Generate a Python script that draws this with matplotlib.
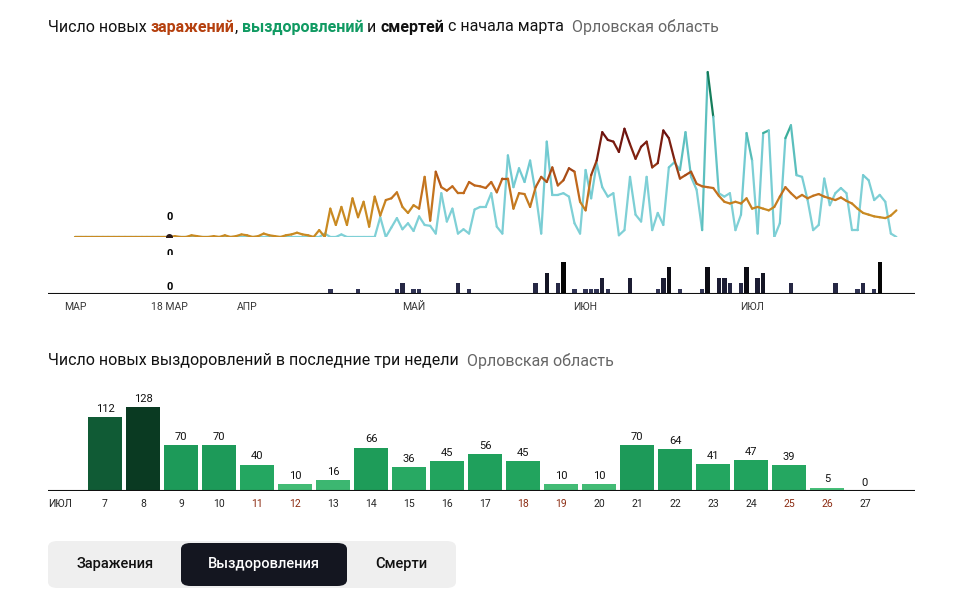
import numpy as np
import matplotlib
matplotlib.use("Agg")
import matplotlib.pyplot as plt
from matplotlib.collections import LineCollection
from matplotlib.colors import LinearSegmentedColormap, Normalize
from matplotlib.patches import FancyBboxPatch

plt.rcParams['font.family'] = 'Roboto'

# ---- data: daily from 1 March (day 0) ----
cases_prefix = [0]*17 + [0,1,0,0,2,1,0,0,1,0,2,0,1,3,2,0,1,4,2,1,0,2,3,5,3,2]
cases_main = [0,8,0,33,14,35,14,45,23,41,12,47,25,43,45,52,35,28,37,33,70,19,76,58,54,59,51,51,64,60,
              59,57,64,52,68,68,33,51,50,35,58,70,64,81,60,66,80,76,41,31,72,89,
              122,113,111,99,126,108,91,105,111,81,86,124,115,90,68,72,76,62,59,58,57,48,41,39,41,39,45,33,
              35,33,31,35,47,58,51,45,49,45,48,50,47,45,43,46,42,39,33,28,26,24,23,22,25,31]
rec_prefix = [0]*43
rec_main = [0,0,4,0,0,3,0,0,0,0,0,0,23,0,11,22,9,16,7,24,14,13,4,51,18,33,4,9,4,32,35,35,51,12,4,95,58,80,
            64,89,51,4,111,49,49,51,47,16,4,78,45,86,
            58,47,51,2,8,70,26,18,70,8,28,14,81,87,78,122,70,55,8,192,140,51,47,51,8,26,121,89,4,121,
            124,0,16,115,130,72,70,43,8,14,68,37,51,57,51,8,8,72,66,43,49,41,4,0]
cases = cases_prefix + cases_main
recoveries = rec_prefix + rec_main
death_days = [46,51,58,59,61,62,69,71,83,85,87,88,90,92,93,94,95,96,100,105,106,107,109,113,114,116,117,118,120,121,
              123,124,129,137,141,142,144,145]
death_counts = [1,1,1,2,1,1,2,1,2,4,2,6,1,1,1,1,3,1,3,1,3,5,1,1,5,3,3,2,2,5,3,4,2,2,1,2,1,6]
month_labels = ["МАР", "18 МАР", "АПР", "МАЙ", "ИЮН", "ИЮЛ"]
month_days = [0, 17, 31, 61, 92, 122]

week_days = list(range(7, 28))
week_rec = [112,128,70,70,40,10,16,66,36,45,56,45,10,10,70,64,41,47,39,5,0]
weekend_days = [11,12,18,19,25,26]

W, H = 960, 613
fig = plt.figure(figsize=(W/100, H/100), dpi=100)

def fx(px): return px / W
def fy(py): return 1 - py / H

def rich(x, y, parts, size):
    r = fig.canvas.get_renderer()
    cx = x
    for txt, col, wt in parts:
        t = fig.text(fx(cx), fy(y), txt, color=col, fontsize=size, fontweight=wt, va='center', ha='left')
        bb = t.get_window_extent(renderer=r)
        cx += bb.width

rich(48, 27, [("Число новых ", "#111", "normal"), ("заражений", "#b5400e", "bold"), (", ", "#111", "normal"),
              ("выздоровлений", "#109a62", "bold"), (" и ", "#111", "normal"), ("смертей", "#111", "bold"),
              (" с начала марта  ", "#111", "normal"), ("Орловская область", "#666", "normal")], 11.5)

# ---- top line chart ----
x0, x1 = 48, 915
d0 = (48 - 75) / 5.55
d1 = (915 - 75) / 5.55
ax = fig.add_axes([fx(x0), fy(237), fx(x1 - x0), (237 - 60) / H])
ax.set_xlim(d0, d1)
ax.set_ylim(0, 206)
ax.axis('off')

def grad_line(vals, cmap, norm, lw=1.6):
    d = np.arange(len(vals))
    v = np.array(vals, float)
    pts = np.column_stack([d, v]).reshape(-1, 1, 2)
    segs = np.concatenate([pts[:-1], pts[1:]], axis=1)
    lc = LineCollection(segs, cmap=cmap, norm=norm, linewidth=lw, capstyle='round')
    lc.set_array((v[:-1] + v[1:]) / 2)
    ax.add_collection(lc)

rec_cmap = LinearSegmentedColormap.from_list('r', ['#7fd0d6', '#6cc8cf', '#20a07e', '#0c5e3c'])
case_cmap = LinearSegmentedColormap.from_list('c', ['#c98a22', '#c0661c', '#8a2a10', '#6a0f0f'])
grad_line(recoveries, rec_cmap, Normalize(40, 190))
grad_line(cases, case_cmap, Normalize(30, 120))
ax.plot([17], [0], 'o', color='#2a1a1a', ms=4, zorder=5)
ax.annotate("0", (17, 0), xytext=(0, 12), textcoords='offset points', ha='center', fontsize=8, fontweight='bold')
ax.annotate("0", (17, 0), xytext=(0, -12), textcoords='offset points', ha='center', va='center', fontsize=8, fontweight='bold')

# ---- deaths bars ----
axd = fig.add_axes([fx(x0), fy(294), fx(x1 - x0), 39 / H])
axd.set_xlim(d0, d1)
axd.set_ylim(0, 7.3)
dcm = LinearSegmentedColormap.from_list('d', ['#3b3f66', '#1c1d33', '#050505'])
axd.bar(death_days, death_counts, width=0.8, color=[dcm(c / 6) for c in death_counts])
axd.axhline(0, color='#111', lw=1.5)
axd.text(17, 0.8, "0", ha='center', fontsize=8, fontweight='bold')
for s in axd.spines.values():
    s.set_visible(False)
axd.set_yticks([])
axd.set_xticks(month_days)
axd.set_xticklabels(month_labels, fontsize=7.5, color='#333')
axd.tick_params(axis='x', length=0, pad=6)

# ---- second chart ----
rich(48, 361, [("Число новых выздоровлений в последние три недели  ", "#111", "normal"),
               ("Орловская область", "#666", "normal")], 11.5)
axb = fig.add_axes([fx(x0), fy(491), fx(x1 - x0), 100 / H])
axb.set_xlim((48 - 105) / 38 + 7, (915 - 105) / 38 + 7)
axb.set_ylim(0, 152)
gcm = LinearSegmentedColormap.from_list('g', ['#4cc27c', '#22a55f', '#1a9455', '#0a3a22'])
axb.bar(week_days, week_rec, width=0.92, color=[gcm(v / 128) for v in week_rec])
for d, v in zip(week_days, week_rec):
    axb.text(d, v + 5, str(v), ha='center', va='bottom', fontsize=8, color='#111')
axb.axhline(0, color='#111', lw=1.5)
for s in axb.spines.values():
    s.set_visible(False)
axb.set_yticks([])
axb.set_xticks(week_days)
axb.set_xticklabels([str(d) for d in week_days], fontsize=7.5)
for lbl, d in zip(axb.get_xticklabels(), week_days):
    lbl.set_color('#8b2a10' if d in weekend_days else '#222')
axb.tick_params(axis='x', length=0, pad=6)
fig.text(fx(60), fy(504), "ИЮЛ", fontsize=7.5, ha='center', va='center', color='#222')

# ---- buttons ----
fig.patches.append(FancyBboxPatch((fx(48), fy(588)), fx(408), 47 / H, boxstyle="round,pad=0,rounding_size=0.01",
                                  transform=fig.transFigure, fc='#efefef', ec='none'))
fig.patches.append(FancyBboxPatch((fx(181), fy(586)), fx(166), 43 / H, boxstyle="round,pad=0,rounding_size=0.01",
                                  transform=fig.transFigure, fc='#141620', ec='none'))
fig.text(fx(115), fy(564), "Заражения", ha='center', va='center', fontsize=10.5, fontweight='medium', color='#111')
fig.text(fx(264), fy(564), "Выздоровления", ha='center', va='center', fontsize=10.5, fontweight='medium', color='white')
fig.text(fx(401), fy(564), "Смерти", ha='center', va='center', fontsize=10.5, fontweight='medium', color='#111')

fig.savefig("out.png", dpi=100)
